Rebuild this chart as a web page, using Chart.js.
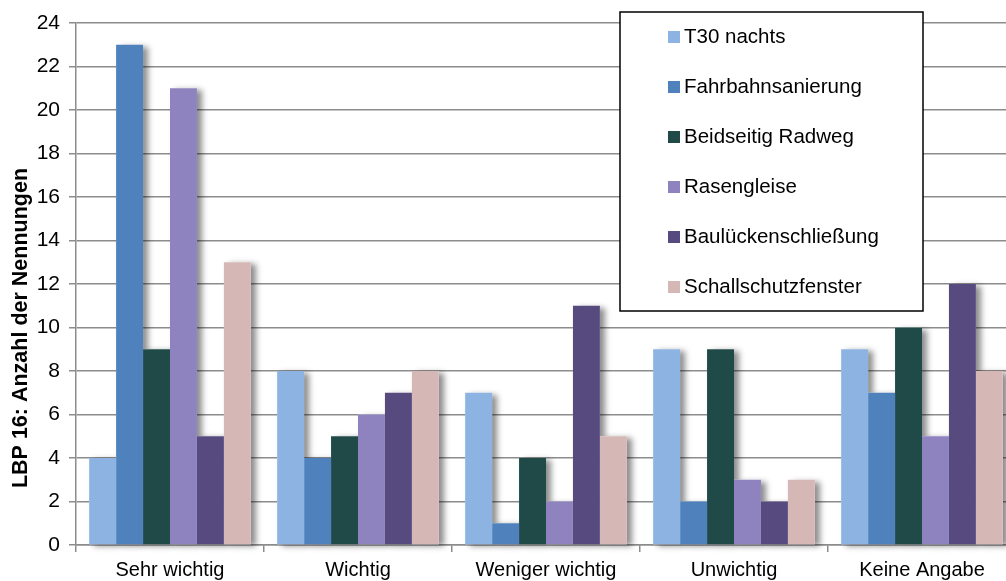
<!DOCTYPE html>
<html>
<head>
<meta charset="utf-8">
<script src="https://cdn.jsdelivr.net/npm/chart.js@4/dist/chart.umd.min.js"></script>
<style>
  html, body { margin: 0; padding: 0; background: #fff; overflow: hidden; }
  #wrap { width: 1016px; height: 581px; }
</style>
</head>
<body>
<div id="wrap"><canvas id="myChart" width="1016" height="581"></canvas></div>
<script>
// Kategorien und Werte
const categories = ['Sehr wichtig', 'Wichtig', 'Weniger wichtig', 'Unwichtig', 'Keine Angabe'];
const seriesNames = ['T30 nachts', 'Fahrbahnsanierung', 'Beidseitig Radweg', 'Rasengleise', 'Baulückenschließung', 'Schallschutzfenster'];
const t30Nachts = [4, 8, 7, 9, 9];
const fahrbahnsanierung = [23, 4, 1, 2, 7];
const beidseitigRadweg = [9, 5, 4, 9, 10];
const rasengleise = [21, 6, 2, 3, 5];
const baulueckenschliessung = [5, 7, 11, 2, 12];
const schallschutzfenster = [13, 8, 5, 3, 8];
const yTicks = [0, 2, 4, 6, 8, 10, 12, 14, 16, 18, 20, 22, 24];
const yTitle = 'LBP 16: Anzahl der Nennungen';

const seriesValues = [t30Nachts, fahrbahnsanierung, beidseitigRadweg, rasengleise, baulueckenschliessung, schallschutzfenster];
const colors = ['#8db3e2', '#4f81bd', '#1f4a47', '#8e82bf', '#564a7f', '#d5b8b6'];
const gridGray = '#8c8c8c';
const font = 'Liberation Sans, Arial, sans-serif';

// Schatten hinter den Balken
const barShadow = {
    id: 'barShadow',
    beforeDatasetsDraw(chart) {
        const ctx = chart.ctx;
        ctx.save();
        ctx.shadowColor = 'rgba(0,0,0,0.45)';
        ctx.shadowBlur = 6;
        ctx.shadowOffsetX = 5;
        ctx.shadowOffsetY = 2;
        ctx.fillStyle = '#fff';
        chart.data.datasets.forEach((ds, i) => {
            chart.getDatasetMeta(i).data.forEach(bar => {
                const p = bar.getProps(['x', 'y', 'base', 'width'], true);
                ctx.fillRect(p.x - p.width / 2, p.y, p.width, p.base - p.y);
            });
        });
        ctx.restore();
    }
};

// Legende mit Rahmen und Achsentitel
const boxLegend = {
    id: 'boxLegend',
    afterDraw(chart) {
        const ctx = chart.ctx;
        const bx = 620, by = 12, bw = 303, bh = 299;
        ctx.save();
        ctx.fillStyle = '#fff';
        ctx.fillRect(bx, by, bw, bh);
        ctx.strokeStyle = '#000';
        ctx.lineWidth = 1.5;
        ctx.strokeRect(bx, by, bw, bh);
        ctx.font = '20.5px ' + font;
        ctx.textBaseline = 'middle';
        chart.data.datasets.forEach((ds, i) => {
            const cy = 37 + i * 50;
            ctx.fillStyle = ds.backgroundColor;
            ctx.fillRect(668, cy - 6, 12, 12);
            ctx.fillStyle = '#000';
            ctx.fillText(ds.label, 684, cy);
        });
        // y-Achsentitel
        ctx.translate(21, 328);
        ctx.rotate(-Math.PI / 2);
        ctx.font = 'bold 21.5px ' + font;
        ctx.textAlign = 'center';
        ctx.fillText(yTitle, 0, 0);
        ctx.restore();
    }
};

const ctx = document.getElementById('myChart').getContext('2d');
const myChart = new Chart(ctx, {
    type: 'bar',
    data: {
        labels: categories,
        datasets: seriesNames.map((name, i) => ({
            label: name,
            data: seriesValues[i],
            backgroundColor: colors[i],
            borderWidth: 0,
            barPercentage: 1,
            categoryPercentage: 0.86
        }))
    },
    options: {
        responsive: false,
        animation: false,
        layout: { padding: { top: 23, right: 0, left: 0, bottom: 0 } },
        plugins: {
            legend: { display: false },
            tooltip: { enabled: false }
        },
        scales: {
            x: {
                grid: { offset: true, drawOnChartArea: false, drawTicks: true, tickLength: 7, color: gridGray, lineWidth: 1.5 },
                border: { color: gridGray, width: 1.5 },
                ticks: { color: '#000', font: { family: font, size: 20 }, padding: 6, maxRotation: 0 },
                afterFit(scale) { scale.height = 36; }
            },
            y: {
                min: 0,
                max: 24,
                afterBuildTicks(scale) { scale.ticks = yTicks.map(v => ({ value: v })); },
                grid: { color: gridGray, lineWidth: 1.5, tickLength: 7 },
                border: { color: gridGray, width: 1.5 },
                ticks: { color: '#000', font: { family: font, size: 21 }, padding: 9 },
                afterFit(scale) { scale.width = 76; }
            }
        }
    },
    plugins: [barShadow, boxLegend]
});
</script>
</body>
</html>
